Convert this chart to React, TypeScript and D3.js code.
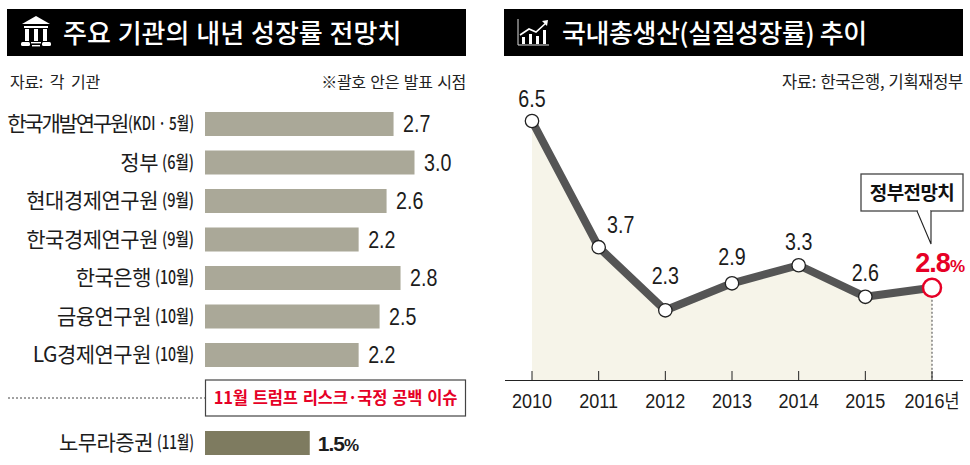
import React from "react";
import * as d3 from "d3";

const forecastNames = ["한국개발연구원", "정부", "현대경제연구원", "한국경제연구원", "한국은행", "금융연구원", "LG경제연구원"];
const forecastDates = ["(KDI · 5월)", "(6월)", "(9월)", "(9월)", "(10월)", "(10월)", "(10월)"];
const forecastValues = [2.7, 3.0, 2.6, 2.2, 2.8, 2.5, 2.2];
const nomuraName = "노무라증권";
const nomuraDate = "(11월)";
const nomuraValue = 1.5;
const years = ["2010", "2011", "2012", "2013", "2014", "2015", "2016"];
const growth = [6.5, 3.7, 2.3, 2.9, 3.3, 2.6, 2.8];

const FONT = "'Liberation Sans','Noto Sans CJK KR',sans-serif";
const KR = "'Noto Sans CJK KR','Liberation Sans',sans-serif";

const xBar = d3.scaleLinear().domain([0, 3]).range([205, 414.5]);
const yBar = d3.scaleLinear().domain([0, 6]).range([124, 355]);
const xLine = d3.scalePoint<string>().domain(years).range([532, 932]);
const yLine = d3.scaleLinear().domain([0, 6.5]).range([414, 121]);
const baseline = 380.5;

const linePath = d3.line<number>().x((_, i) => xLine(years[i])!).y((d) => yLine(d))(growth)!;
const areaPath = d3.area<number>().x((_, i) => xLine(years[i])!).y0(baseline).y1((d) => yLine(d))(growth)!;

const labelDy = [-14, -14, -26, -18, -15, -16, -16];
const labelDx = [0, 22, 0, 0, 0, 0, 0];
const dateWidths = [66, 32, 32, 32, 39, 39, 39];
const nomuraDateWidth = 37;
const LABEL_RIGHT = 194;

function Squeezed(props: { x: number; y: number; sx: number; anchor?: string; size: number; children: React.ReactNode; family?: string }) {
  return (
    <text
      transform={`translate(${props.x},${props.y}) scale(${props.sx},1)`}
      textAnchor={props.anchor ?? "start"}
      fontSize={props.size}
      fill="#1c1c1c"
      fontFamily={props.family ?? FONT}
    >
      {props.children}
    </text>
  );
}

function BarLabel({ name, date, width, y, tight }: { name: string; date: string; width: number; y: number; tight?: boolean }) {
  const gap = tight ? 1 : 4;
  return (
    <g>
      <text x={LABEL_RIGHT - width - gap} y={y + 7} textAnchor="end" fill="#1c1c1c" fontSize={21} letterSpacing={tight ? -2.2 : -0.5} fontFamily={KR}>
        {name}
      </text>
      <text x={LABEL_RIGHT} y={y + 6} textAnchor="end" fill="#1c1c1c" fontSize={18} fontWeight={500} fontFamily={KR} textLength={width} lengthAdjust="spacingAndGlyphs">
        {date}
      </text>
    </g>
  );
}

function BankIcon() {
  return (
    <g fill="#fff">
      <path d="M36 16 L50 24 L22 24 Z" />
      <rect x="24" y="26" width="24" height="2" />
      <rect x="25" y="29" width="4" height="12" />
      <rect x="34" y="29" width="4" height="12" />
      <rect x="43" y="29" width="4" height="12" />
      <rect x="21" y="42" width="9" height="4" rx="1.5" />
      <rect x="42" y="42" width="9" height="4" rx="1.5" />
      <rect x="31" y="42" width="10" height="1.4" />
      <rect x="32" y="45" width="8" height="1.4" />
    </g>
  );
}

function ChartIcon() {
  return (
    <g>
      <path d="M518 19 V45 H549" fill="none" stroke="#ddd" strokeWidth="1" />
      <g fill="#fff">
        <rect x="522" y="37" width="3" height="7" />
        <rect x="529" y="34" width="3" height="10" />
        <rect x="536" y="36" width="3" height="8" />
        <rect x="543" y="30" width="3" height="14" />
      </g>
      <path d="M520 35 L529 29 L536 32 L546 23" fill="none" stroke="#fff" strokeWidth="1.6" />
      <path d="M542 21 L548 20 L547 26 Z" fill="#fff" />
    </g>
  );
}

export default function App() {
  return (
    <svg
      width={970}
      height={465}
      viewBox="0 0 970 465"
      style={{ position: "absolute", left: 0, top: 0, background: "#fff" }}
      fontFamily={FONT}
    >
      <rect x={7} y={9} width={459} height={47} fill="#000" />
      <BankIcon />
      <text x={63} y={43} fill="#fff" fontSize={26} fontWeight={500} fontFamily={KR} wordSpacing={1}>
        주요 기관의 내년 성장률 전망치
      </text>
      <text x={10} y={88} fontSize={16} fill="#222" fontFamily={KR} letterSpacing={-0.3} wordSpacing={3.5}>자료: 각 기관</text>
      <text x={466} y={88} fontSize={16} fill="#222" textAnchor="end" fontFamily={KR} letterSpacing={-0.3} wordSpacing={1.3}>※괄호 안은 발표 시점</text>

      {forecastValues.map((v, i) => (
        <g key={forecastNames[i]}>
          <rect x={xBar(0)} y={yBar(i) - 12} width={xBar(v) - xBar(0)} height={24} fill="#aaa898" />
          <BarLabel name={forecastNames[i]} date={forecastDates[i]} width={dateWidths[i]} y={yBar(i)} tight={i === 0} />
          <Squeezed x={xBar(v) + 9.5} y={yBar(i) + 8} sx={0.82} size={24}>{v.toFixed(1)}</Squeezed>
        </g>
      ))}

      <line x1={8} x2={205} y1={398} y2={398} stroke="#444" strokeWidth={1} strokeDasharray="2 2" />
      <rect x={205.5} y={380} width={260} height={36} fill="#fff" stroke="#444" strokeWidth={1.2} />
      <text x={335.5} y={404} textAnchor="middle" fontSize={16.5} fontWeight={700} fill="#e60026" fontFamily={KR} letterSpacing={-0.2} wordSpacing={1.5}>
        11월 트럼프 리스크·국정 공백 이슈
      </text>

      <rect x={xBar(0)} y={431} width={xBar(nomuraValue) - xBar(0)} height={24} fill="#7e7b60" />
      <BarLabel name={nomuraName} date={nomuraDate} width={nomuraDateWidth} y={443} />
      <text x={xBar(nomuraValue) + 8} y={451} fontSize={21} fontWeight={700} fill="#1c1c1c" letterSpacing={-1}>
        {nomuraValue.toFixed(1)}
        <tspan fontSize={17}>%</tspan>
      </text>

      <rect x={504} y={9} width={459} height={47} fill="#000" />
      <ChartIcon />
      <text x={562} y={43} fill="#fff" fontSize={26} fontWeight={500} fontFamily={KR} letterSpacing={-0.45}>
        국내총생산(실질성장률) 추이
      </text>
      <text x={963} y={88} fontSize={16.5} fill="#222" textAnchor="end" fontFamily={KR} letterSpacing={-0.3} wordSpacing={1}>자료: 한국은행, 기획재정부</text>

      <path d={areaPath} fill="#f6f4e9" />
      <line x1={xLine("2016")!} x2={xLine("2016")!} y1={yLine(2.8)} y2={baseline} stroke="#444" strokeWidth={1} strokeDasharray="2 2" />
      <path d={linePath} fill="none" stroke="#555" strokeWidth={8} strokeLinejoin="round" />

      <line x1={505} x2={963} y1={baseline} y2={baseline} stroke="#222" strokeWidth={1.2} />
      {years.map((y) => (
        <g key={y}>
          <line x1={xLine(y)!} x2={xLine(y)!} y1={371} y2={baseline} stroke="#222" strokeWidth={1} />
          <Squeezed x={xLine(y)!} y={408} sx={0.86} size={21} anchor="middle">
            {y}
            {y === "2016" ? <tspan fontFamily={KR} fontSize={19}>년</tspan> : null}
          </Squeezed>
        </g>
      ))}

      {growth.map((v, i) => {
        const last = i === growth.length - 1;
        const cx = xLine(years[i])!;
        const cy = yLine(v);
        return (
          <g key={years[i]}>
            <circle cx={cx} cy={cy} r={last ? 9 : 6.7} fill="#fff" stroke={last ? "#e60026" : "#222"} strokeWidth={last ? 2.5 : 1.3} />
            {last ? (
              <text x={cx + 32} y={cy + labelDy[i]} textAnchor="end" fontWeight={700} fontSize={27} fill="#e60026" letterSpacing={-1}>
                {v.toFixed(1)}
                <tspan fontSize={17}>%</tspan>
              </text>
            ) : (
              <Squeezed x={cx + labelDx[i]} y={cy + labelDy[i]} sx={0.82} size={24} anchor="middle">
                {v.toFixed(1)}
              </Squeezed>
            )}
          </g>
        );
      })}

      <rect x={861} y={174} width={102} height={37} fill="#fff" stroke="#444" strokeWidth={1.3} />
      <path d="M917 211 L931 244 L931 211" fill="#fff" stroke="#222" strokeWidth={1.1} />
      <line x1={918} x2={930} y1={211} y2={211} stroke="#fff" strokeWidth={2.5} />
      <text x={912} y={200} textAnchor="middle" fontSize={19} fontWeight={700} fill="#111" fontFamily={KR} letterSpacing={-0.6}>정부전망치</text>
    </svg>
  );
}
